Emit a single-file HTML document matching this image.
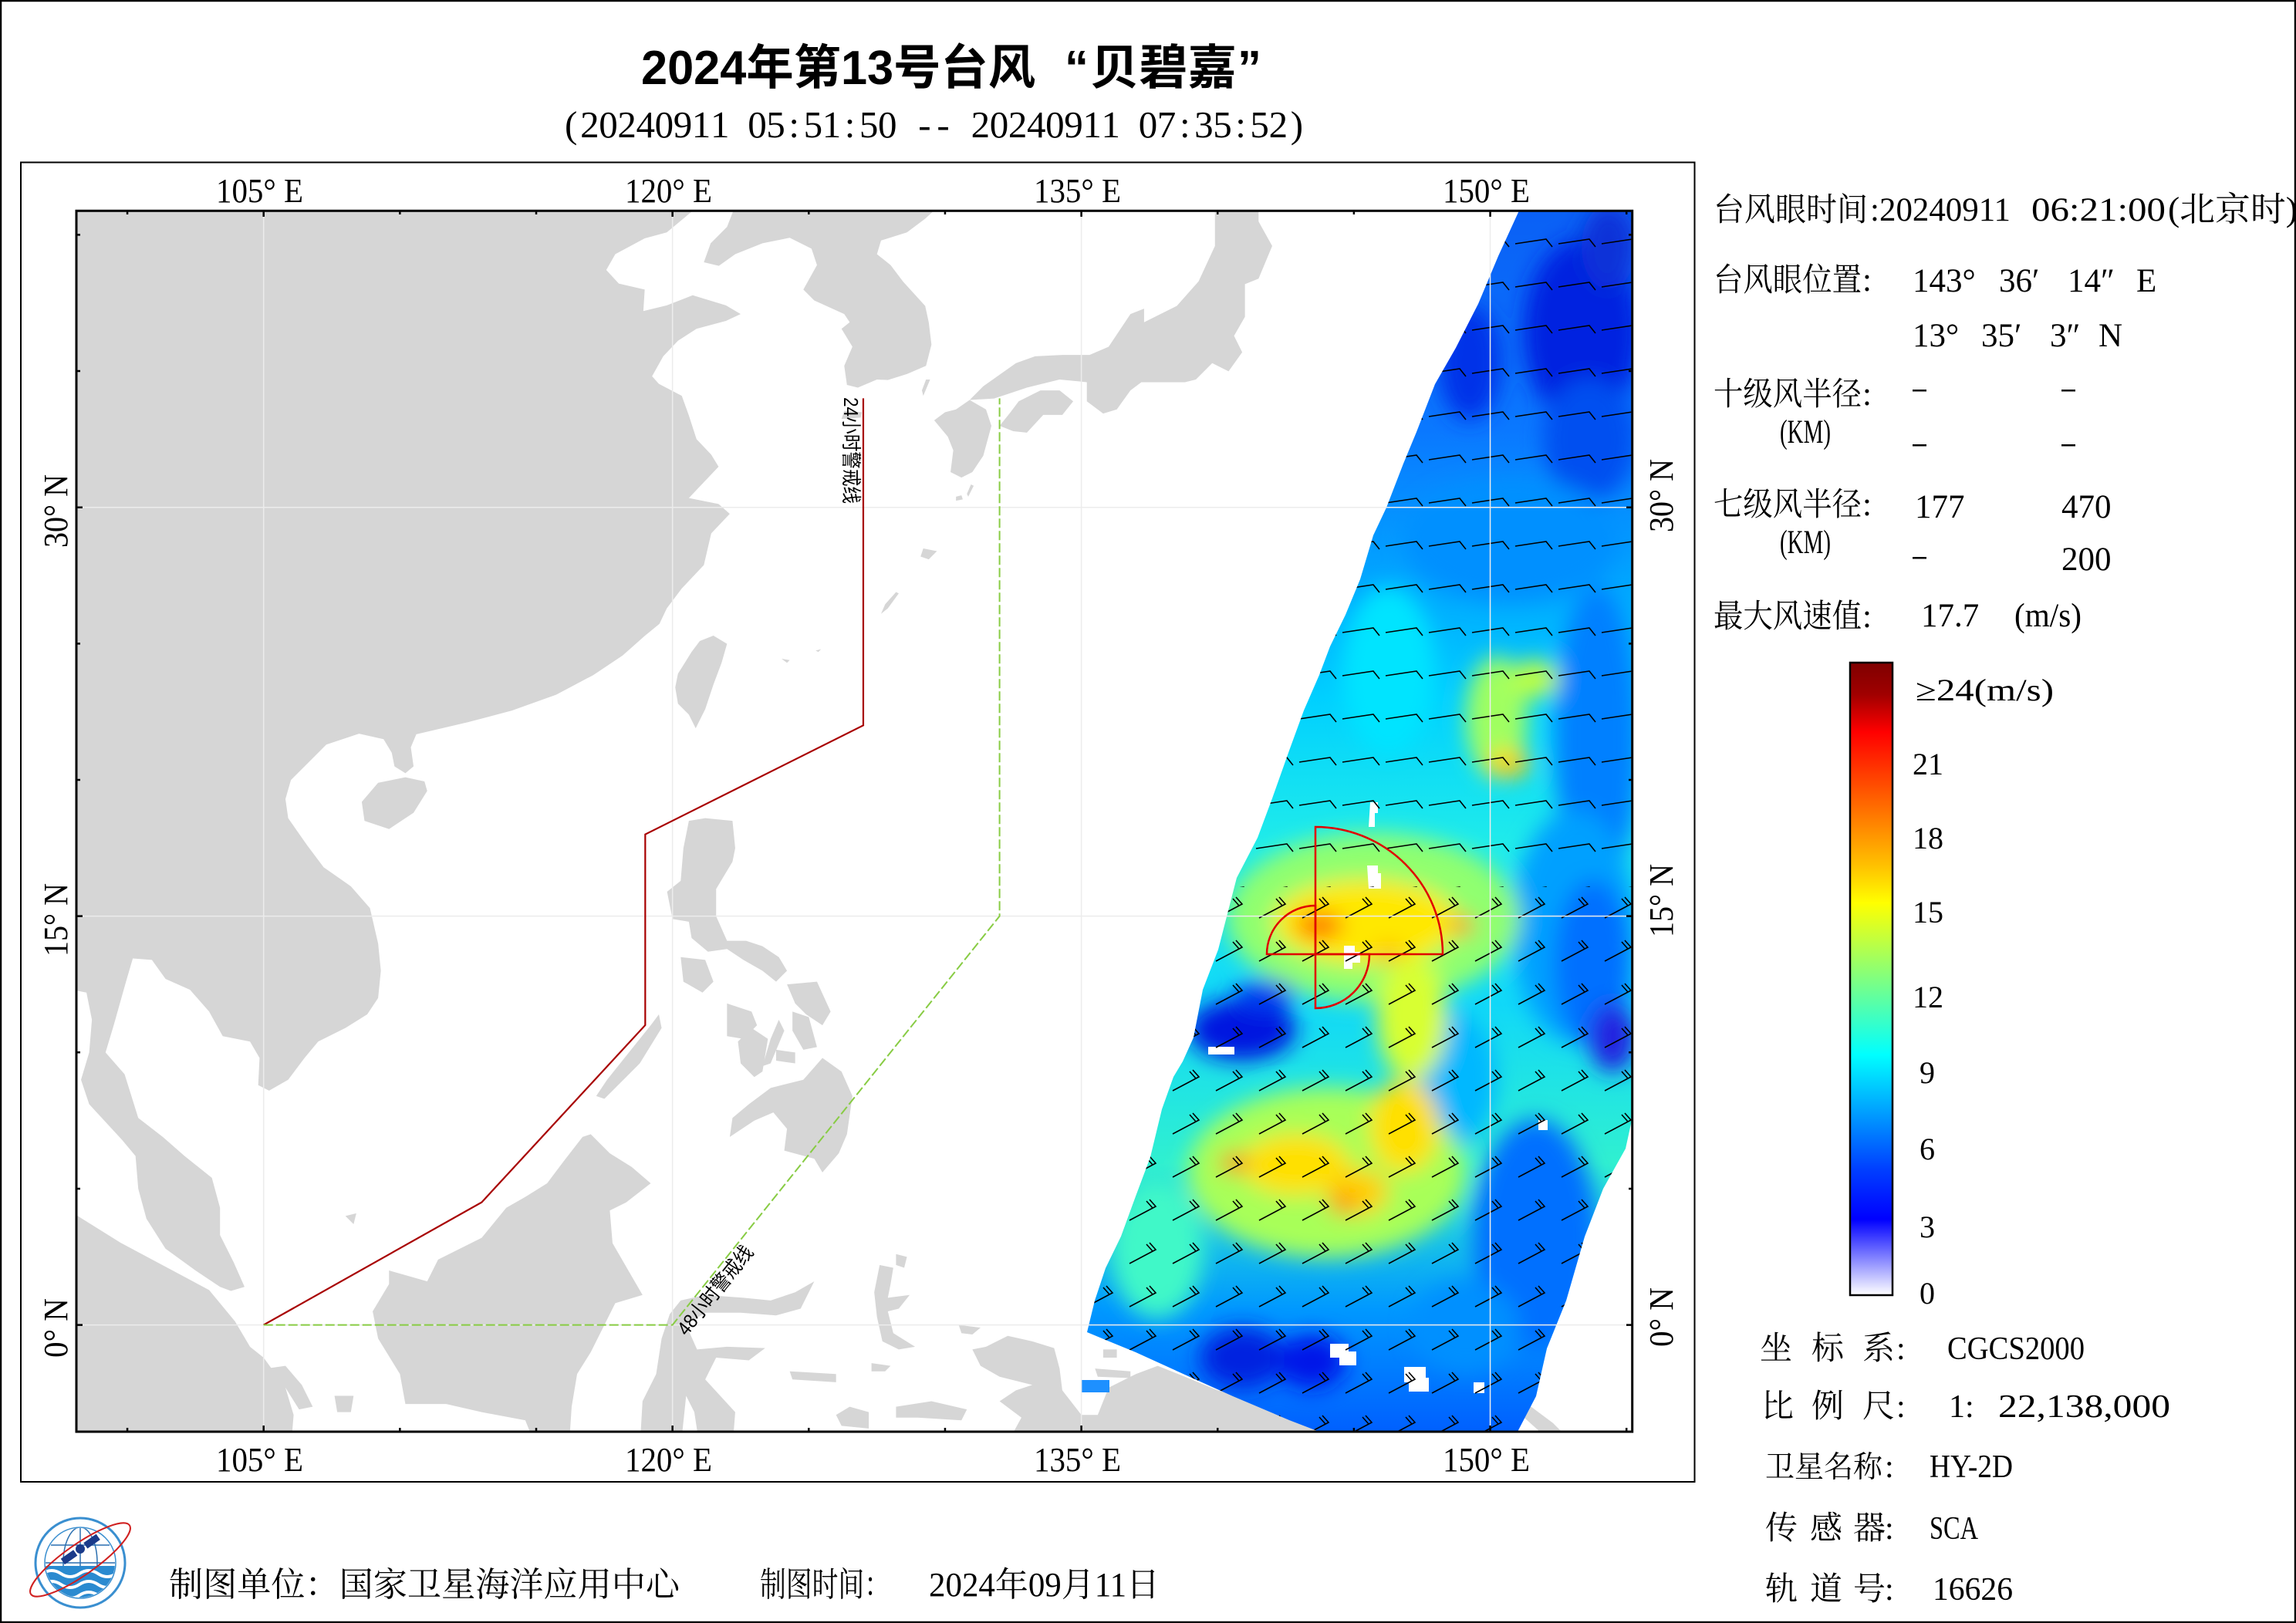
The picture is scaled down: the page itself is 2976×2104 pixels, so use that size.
<!DOCTYPE html>
<html>
<head>
<meta charset="utf-8">
<style>
html,body{margin:0;padding:0;background:#fff;}
svg{display:block;}
.sf{font-family:"Liberation Serif","Noto Serif CJK SC",serif;}
.ss{font-family:"Liberation Sans","Noto Sans CJK SC",sans-serif;}
</style>
</head>
<body>
<svg width="2976" height="2104" viewBox="0 0 2976 2104" xmlns="http://www.w3.org/2000/svg">
<defs>
  <clipPath id="swc">
    <polygon points="1969,273 2116,273 2116,1448 2107,1489 2078,1541 2054,1603 2030,1686 2005,1748 1991,1810 1967,1856 1710,1856 1671,1841 1598,1810 1540,1784 1472,1753 1433,1737 1409,1727 1419,1686 1433,1644 1453,1603 1472,1551 1491,1500 1506,1438 1521,1396 1533,1376 1547,1345 1559,1283 1579,1231 1603,1138 1630,1086 1649,1035 1671,973 1690,921 1710,875 1724,838 1744,797 1763,751 1780,694 1797,658 1819,601 1836,560 1860,498 1887,451 1916,394 1942,332"/>
  </clipPath>
  <linearGradient id="swg" gradientUnits="userSpaceOnUse" x1="0" y1="273" x2="0" y2="1856">
    <stop offset="0" stop-color="#0a60f5"/>
    <stop offset="0.18" stop-color="#0a78ff"/>
    <stop offset="0.31" stop-color="#00a8ff"/>
    <stop offset="0.4" stop-color="#00d0ff"/>
    <stop offset="0.52" stop-color="#20ecea"/>
    <stop offset="0.65" stop-color="#10d8f8"/>
    <stop offset="0.78" stop-color="#30f0d0"/>
    <stop offset="0.9" stop-color="#0098ff"/>
    <stop offset="1" stop-color="#0060ff"/>
  </linearGradient>
  <filter id="blr" filterUnits="userSpaceOnUse" x="1300" y="200" width="900" height="1750">
    <feGaussianBlur stdDeviation="14"/>
  </filter>
  <linearGradient id="cbg" x1="0" y1="0" x2="0" y2="1">
    <stop offset="0" stop-color="#7f0000"/>
    <stop offset="0.05" stop-color="#a00000"/>
    <stop offset="0.11" stop-color="#ff0000"/>
    <stop offset="0.18" stop-color="#ff4000"/>
    <stop offset="0.25" stop-color="#ff8000"/>
    <stop offset="0.32" stop-color="#ffc000"/>
    <stop offset="0.38" stop-color="#ffff00"/>
    <stop offset="0.44" stop-color="#c0ff40"/>
    <stop offset="0.50" stop-color="#80ff80"/>
    <stop offset="0.56" stop-color="#40ffc0"/>
    <stop offset="0.62" stop-color="#00ffff"/>
    <stop offset="0.68" stop-color="#00c0ff"/>
    <stop offset="0.74" stop-color="#0080ff"/>
    <stop offset="0.80" stop-color="#0040ff"/>
    <stop offset="0.88" stop-color="#0000ff"/>
    <stop offset="0.895" stop-color="#2020ff"/>
    <stop offset="0.91" stop-color="#4040ff"/>
    <stop offset="0.925" stop-color="#6060ff"/>
    <stop offset="0.94" stop-color="#8080ff"/>
    <stop offset="0.955" stop-color="#a0a0ff"/>
    <stop offset="0.97" stop-color="#c0c0ff"/>
    <stop offset="0.985" stop-color="#e0e0ff"/>
    <stop offset="1" stop-color="#ffffff"/>
  </linearGradient>
  <pattern id="bn" patternUnits="userSpaceOnUse" x="1400" y="290" width="56" height="56">
    <path d="M4,26 L44,20 L52,30" fill="none" stroke="#000" stroke-width="1.6"/>
  </pattern>
  <pattern id="bs" patternUnits="userSpaceOnUse" x="1400" y="1150" width="56" height="56">
    <path d="M8,40 L42,22 L34,13 M38,24 L30,15" fill="none" stroke="#000" stroke-width="1.6"/>
  </pattern>
  <clipPath id="logoc"><circle cx="104" cy="2026" r="45"/></clipPath>
</defs>

<rect x="0" y="0" width="2976" height="2104" fill="#fff"/>

<!-- LAND -->
<svg x="99" y="273.3" width="2016.7" height="1582.7" viewBox="98.13 -40.89 57.08 44.807" preserveAspectRatio="none">
<g fill="#d6d6d6">
<path d="M97,-42 L120.8,-42 L120.74,-40.89 L119.79,-40.1 L118.98,-39.88 L117.9,-39.3 L117.57,-38.72 L118.03,-38.22 L118.98,-38 L118.93,-37.21 L119.79,-37.42 L120.74,-37.79 L121.96,-37.42 L122.5,-37.1 L121.96,-36.85 L120.88,-36.56 L120.2,-36.12 L119.66,-35.55 L119.25,-34.82 L119.5,-34.54 L120.34,-34.1 L120.6,-33.38 L120.88,-32.51 L121.42,-31.94 L121.69,-31.5 L121.15,-30.93 L120.6,-30.35 L121.69,-30.13 L122.1,-29.77 L121.42,-29.05 L121.15,-27.89 L120.34,-27.03 L119.79,-26.3 L119.52,-25.73 L118.98,-25.29 L118.17,-24.57 L117.09,-23.85 L115.73,-23.13 L114.11,-22.55 L112.49,-22.12 L110.6,-21.68 L110.4,-21.2 L110.5,-20.5 L110.2,-20.25 L109.8,-20.5 L109.7,-21 L109.4,-21.5 L108.5,-21.7 L107.3,-21.3 L106.7,-20.7 L106,-20 L105.8,-19.3 L105.9,-18.6 L106.6,-17.6 L107.2,-16.8 L108.2,-16.1 L108.9,-15.3 L109.2,-14 L109.3,-13 L109.2,-12 L108.8,-11.4 L108,-10.9 L107,-10.4 L106.5,-9.8 L105.9,-9 L105.2,-8.6 L104.8,-8.8 L104.85,-9.8 L104.5,-10.4 L103.5,-10.6 L103,-11.5 L102.3,-12.3 L101.4,-12.7 L100.9,-13.4 L100.2,-13.45 L99.95,-12.6 L99.5,-11 L99.2,-10 L99.9,-9.2 L100.4,-7.6 L101.3,-6.9 L102.1,-6.2 L103.1,-5.4 L103.4,-4.3 L103.4,-3.3 L103.9,-2.3 L104.3,-1.4 L103.8,-1.25 L103.4,-1.4 L102.5,-2 L101.4,-2.8 L100.7,-3.9 L100.4,-5 L100.3,-6.2 L99.8,-6.8 L98.6,-8.1 L98.3,-9 L98.6,-10 L98.7,-11.2 L98.5,-12.2 L97,-12.5 Z"/>
<path d="M122.23,-41.5 L122.23,-40.89 L122,-40.3 L121.4,-39.7 L121.15,-39 L121.7,-38.87 L122.3,-39.3 L123.3,-39.7 L124.3,-39.9 L125.1,-39.5 L125.3,-38.9 L124.8,-38 L125.2,-37.6 L126.3,-37.1 L126.5,-36.8 L126.2,-36.56 L126.6,-35.9 L126.3,-35.2 L126.4,-34.5 L126.8,-34.4 L127.5,-34.7 L127.9,-34.68 L128.6,-34.9 L129.3,-35.2 L129.5,-35.98 L129.4,-36.8 L129.27,-37.4 L128.46,-38.29 L128,-38.9 L127.5,-39.3 L127.65,-39.8 L128.6,-40.1 L129.27,-40.6 L129.7,-41 L129.8,-41.5 Z"/>
<path d="M126.2,-33.25 L126.9,-33.3 L126.95,-33.5 L126.3,-33.55 Z"/>
<path d="M139.9,-41.6 L141.5,-41.5 L141.5,-40.5 L142,-39.6 L141.5,-38.4 L141,-38.2 L141,-37 L140.6,-36.3 L140.9,-35.7 L140.4,-35 L139.8,-35.3 L139.2,-34.7 L138.8,-34.6 L138.2,-34.6 L137.2,-34.6 L136.8,-34.3 L136.3,-33.6 L135.8,-33.45 L135.2,-33.9 L135.2,-34.6 L134.2,-34.7 L133,-34.4 L131.8,-34 L130.9,-33.95 L131.4,-34.45 L132.6,-35.3 L133.3,-35.55 L134.3,-35.6 L135.3,-35.6 L136,-35.9 L136.8,-37.1 L137.3,-37.3 L137.3,-36.8 L138.5,-37.4 L139.3,-38.3 L139.9,-39.6 L139.9,-40.6 Z"/>
<path d="M132,-33 L132.4,-33.5 L132.7,-33.9 L133.5,-34.3 L134.2,-34.3 L134.7,-33.9 L134.3,-33.4 L133.6,-33.4 L133,-32.75 L132.5,-32.8 Z"/>
<path d="M130.9,-33.95 L131.5,-33.6 L131.7,-33 L131.4,-31.9 L131,-31.3 L130.6,-31.1 L130.2,-31.3 L130.3,-32.1 L130.1,-32.6 L129.6,-33.2 L130,-33.5 L130.4,-33.6 Z"/>
<path d="M129.2,-34.1 L129.45,-34.7 L129.3,-34.7 L129.15,-34.3 Z"/>
<path d="M130.85,-30.4 L131.05,-30.8 L130.95,-30.85 L130.8,-30.5 Z M130.4,-30.25 L130.65,-30.3 L130.6,-30.45 L130.4,-30.4 Z"/>
<path d="M129.2,-28.5 L129.7,-28.4 L129.4,-28.1 L129.1,-28.2 Z"/>
<path d="M127.65,-26.1 L127.9,-26.3 L128.3,-26.85 L128.2,-26.9 L127.8,-26.45 Z"/>
<path d="M124,-24.45 L124.3,-24.4 L124.2,-24.3 Z M125.25,-24.75 L125.45,-24.8 L125.35,-24.7 Z"/>
<path d="M121.5,-25.3 L122,-25 L121.8,-24.3 L121.5,-23.5 L121.2,-22.6 L120.85,-21.9 L120.6,-22.4 L120.2,-22.8 L120.1,-23.4 L120.2,-23.9 L120.7,-24.7 L121,-25.1 Z"/>
<path d="M108.6,-19.2 L109.2,-19.9 L110.2,-20.1 L110.9,-19.95 L111,-19.6 L110.5,-18.8 L109.6,-18.2 L108.7,-18.5 Z"/>
<path d="M120.6,-18.5 L121.2,-18.6 L122.2,-18.5 L122.3,-17.5 L122.2,-17 L121.6,-16 L121.6,-15 L122,-14.1 L122.7,-14.1 L123.3,-13.9 L123.9,-13.5 L124.2,-13 L123.8,-12.6 L123.3,-13 L122.6,-13.4 L122,-13.8 L121.3,-13.7 L120.7,-14.2 L120.6,-14.8 L120,-14.9 L119.8,-15.9 L120.3,-16.3 L120.4,-17.5 Z"/>
<path d="M120.3,-13.5 L121.2,-13.4 L121.5,-12.6 L121.1,-12.2 L120.4,-12.6 Z"/>
<path d="M122,-11.8 L122.9,-11.5 L123.1,-11 L122.6,-10.5 L122,-10.6 Z"/>
<path d="M122.9,-10.9 L123.5,-10.5 L123.3,-9.3 L123,-9.1 L122.5,-9.6 L122.4,-10.4 Z"/>
<path d="M123.9,-11.2 L124.1,-10.8 L123.6,-9.6 L123.3,-9.5 L123.6,-10.5 Z"/>
<path d="M123.8,-10.1 L124.5,-10 L124.5,-9.6 L123.8,-9.7 Z"/>
<path d="M124.4,-11.5 L125,-11.3 L125.3,-10.2 L124.8,-10.1 L124.4,-10.8 Z"/>
<path d="M124.2,-12.5 L125.3,-12.6 L125.8,-11.5 L125.5,-11 L124.9,-11.4 L124.5,-11.8 Z"/>
<path d="M123.6,-8.7 L124.8,-9 L125.5,-9.8 L126.2,-9.3 L126.6,-8.4 L126.4,-7 L126.1,-6.3 L125.5,-5.6 L125.2,-6.1 L124.1,-6.4 L124.2,-7.2 L123.7,-7.8 L123,-7.5 L122.1,-6.9 L122.2,-7.6 L122.8,-8.1 Z"/>
<path d="M117.2,-8.4 L117.5,-8.3 L118.8,-9.6 L119.6,-10.9 L119.5,-11.4 L119.2,-11 L118.4,-10 L117.6,-9 Z"/>
<path d="M117,-7 L117.7,-6.3 L118.5,-5.8 L119.2,-5.2 L118.3,-4.5 L117.7,-4.2 L117.8,-3 L118.9,-1.1 L117.9,-0.8 L117.5,0 L117,1 L116.5,1.8 L116.3,3 L116.2,4.5 L115,4.5 L114.6,3.5 L113,3.2 L111.7,2.9 L110.2,2.9 L110,1.8 L109.2,0.5 L109,-0.5 L109.6,-1.5 L109.6,-2 L111,-1.6 L111.4,-2.4 L113,-3.2 L113.9,-4.3 L114.6,-4.7 L115.4,-5.2 L116,-6 L116.7,-6.9 Z"/>
<path d="M97,4.5 L97,-4.1 L98.13,-4.03 L99.75,-3.02 L101.38,-2.15 L103,-1.28 L103.95,-0.13 L104.5,0.8 L105,1.2 L105.8,2.3 L106.1,3.3 L106,4.5 Z"/>
<path d="M105.1,1.6 L105.8,1.5 L106.4,2.2 L106.8,3 L106.3,3.1 L105.8,2.3 Z"/>
<path d="M107.6,2.6 L108.3,2.6 L108.2,3.2 L107.7,3.2 Z"/>
<path d="M108,-4 L108.4,-4.1 L108.3,-3.7 Z"/>
<path d="M118.8,4.5 L118.9,2.8 L119.4,1.8 L119.6,0.5 L119.9,-0.4 L120.3,-0.9 L121.2,-1.1 L122.6,-1 L123.6,-0.9 L124.5,-1.2 L125.2,-1.6 L124.7,-0.6 L123.8,-0.35 L122.5,-0.45 L121.2,-0.45 L120.5,0 L120.9,0.9 L122,0.8 L123.4,0.85 L122.8,1.3 L121.6,1.2 L121.2,2 L122.3,3.2 L122.2,4.5 L121,4.5 L120.8,3.2 L120.5,2.6 L120.3,4.5 Z"/>
<path d="M127.6,-2.2 L128.1,-2.1 L128,-1.5 L127.9,-1 L128.7,-1.1 L128.3,-0.6 L127.9,-0.5 L128.1,0.3 L128.9,0.8 L128.3,0.9 L127.7,0.6 L127.5,-0.3 L127.4,-1.2 Z"/>
<path d="M128.2,-2.6 L128.6,-2.5 L128.5,-2.1 L128.2,-2.2 Z"/>
<path d="M124.3,1.7 L126,1.8 L126,2.1 L124.4,2 Z"/>
<path d="M126,3.3 L126.5,3 L127.2,3.2 L127.2,3.8 L126.2,3.7 Z"/>
<path d="M128.2,3 L129.5,2.8 L130.8,3.1 L130.6,3.5 L129,3.4 L128.2,3.4 Z"/>
<path d="M127.3,1.4 L128,1.5 L127.8,1.7 L127.3,1.7 Z"/>
<path d="M130.5,0 L131.3,0.1 L131,0.35 L130.6,0.3 Z"/>
<path d="M131,0.9 L131.5,0.8 L132.3,0.4 L133.2,0.6 L134,0.85 L134.2,1.6 L134.3,2.4 L135,3.3 L135.6,3.3 L136,2.3 L137,1.8 L137.8,1.5 L138.8,1.9 L140,2.4 L140.8,2.6 L141.9,2.9 L143,3.2 L143.8,3.5 L144.6,4 L144.6,4.5 L132.2,4.5 L132.8,3.4 L132,2.8 L132.6,2.4 L133.2,2.2 L132,1.9 L131.3,1.5 Z"/>
<path d="M135.5,1.6 L136.8,1.7 L136.8,1.95 L135.6,1.9 Z"/>
<path d="M135.8,0.9 L136.3,0.9 L136.3,1.2 L135.8,1.2 Z"/>
<path d="M146.6,1.95 L147.4,1.95 L147.4,2.2 L146.6,2.2 Z"/>
<path d="M150,2.4 L150.8,2.5 L151.5,3 L152.3,3.6 L153,4.3 L152.7,4.5 L151.8,3.9 L150.8,3 L150,2.8 Z"/>
</g>
</svg>

<!-- SWATH -->
<g clip-path="url(#swc)">
  <rect x="1390" y="270" width="730" height="1590" fill="url(#swg)"/>
  <g filter="url(#blr)">
    <ellipse cx="2050" cy="430" rx="75" ry="120" fill="#0020e0"/>
    <ellipse cx="2085" cy="320" rx="35" ry="55" fill="#1030d8"/>
    <ellipse cx="1905" cy="470" rx="40" ry="75" fill="#0030e8"/>
    <ellipse cx="2060" cy="570" rx="60" ry="80" fill="#0050f0"/>
    <ellipse cx="1960" cy="700" rx="140" ry="80" fill="#0090ff"/>
    <ellipse cx="1800" cy="870" rx="60" ry="110" fill="#00e4ff"/>
    <ellipse cx="2070" cy="960" rx="55" ry="200" fill="#0080ff"/>
    <ellipse cx="1940" cy="930" rx="40" ry="80" fill="#a0ff60"/>
    <ellipse cx="1990" cy="880" rx="30" ry="25" fill="#c0ff40"/>
    <ellipse cx="1955" cy="990" rx="28" ry="18" fill="#ffd000"/>
    <ellipse cx="2040" cy="1200" rx="80" ry="150" fill="#00a0ff"/>
    <ellipse cx="2065" cy="1250" rx="50" ry="110" fill="#0070ff"/>
    <ellipse cx="1780" cy="1190" rx="190" ry="110" fill="#90ff70"/>
    <ellipse cx="1770" cy="1195" rx="120" ry="55" fill="#ffe800"/>
    <ellipse cx="1880" cy="1400" rx="60" ry="90" fill="#00b8ff"/>
    <ellipse cx="1830" cy="1320" rx="45" ry="80" fill="#d8ff30"/>
    <ellipse cx="1610" cy="1335" rx="70" ry="40" fill="#0018e0"/>
    <ellipse cx="1640" cy="1290" rx="40" ry="20" fill="#0040f0"/>
    <ellipse cx="2090" cy="1345" rx="30" ry="45" fill="#2020e0"/>
    <ellipse cx="1990" cy="1600" rx="80" ry="150" fill="#0070ff"/>
    <ellipse cx="1900" cy="1720" rx="70" ry="60" fill="#0090ff"/>
    <ellipse cx="1500" cy="1620" rx="60" ry="90" fill="#40f8c8"/>
    <ellipse cx="1720" cy="1520" rx="180" ry="110" fill="#a8ff58"/>
    <ellipse cx="1680" cy="1510" rx="70" ry="40" fill="#ffe000"/>
    <ellipse cx="1820" cy="1460" rx="45" ry="60" fill="#ffe000"/>
    <ellipse cx="1760" cy="1545" rx="40" ry="30" fill="#ffd000"/>
    <ellipse cx="1610" cy="1760" rx="55" ry="40" fill="#0020e0"/>
    <ellipse cx="1700" cy="1765" rx="45" ry="35" fill="#0018e8"/>
    <ellipse cx="1710" cy="1200" rx="30" ry="17" fill="#ff6a00"/>
    <ellipse cx="1895" cy="1200" rx="15" ry="12" fill="#ff8000"/>
    <ellipse cx="1800" cy="1235" rx="20" ry="10" fill="#ffb000"/>
    <ellipse cx="1600" cy="1508" rx="18" ry="12" fill="#ff7000"/>
    <ellipse cx="1740" cy="1560" rx="18" ry="14" fill="#ff9000"/>
  </g>
  <g fill="#fff">
    <path d="M1742,1226 h14 v8 h7 v14 h-10 v8 h-11 Z"/>
    <path d="M1776,1040 h10 v14 h-4 v18 h-8 Z"/>
    <path d="M1772,1122 h14 v10 h4 v20 h-16 Z"/>
    <path d="M1566,1357 h34 v10 h-34 Z"/>
    <path d="M1724,1742 h24 v10 h10 v18 h-22 v-10 h-12 Z"/>
    <path d="M1820,1772 h28 v14 h4 v18 h-26 v-12 h-6 Z"/>
    <path d="M1910,1792 h14 v14 h-14 Z"/>
    <path d="M1994,1452 h12 v13 h-12 Z"/>
  </g>
  <rect x="1390" y="270" width="730" height="880" fill="url(#bn)"/>
  <rect x="1390" y="1150" width="730" height="710" fill="url(#bs)"/>
</g>
<rect x="1402" y="1789" width="36" height="16" fill="#1e90ff"/>

<!-- GRIDLINES -->
<g stroke="#ececec" stroke-width="1.5">
  <line x1="341.7" y1="273" x2="341.7" y2="1856"/>
  <line x1="871.65" y1="273" x2="871.65" y2="1856"/>
  <line x1="1401.6" y1="273" x2="1401.6" y2="1856"/>
  <line x1="1931.55" y1="273" x2="1931.55" y2="1856"/>
  <line x1="99" y1="657.7" x2="2116" y2="657.7"/>
  <line x1="99" y1="1187.65" x2="2116" y2="1187.65"/>
  <line x1="99" y1="1717.6" x2="2116" y2="1717.6"/>
</g>

<!-- WARNING LINES -->
<polyline points="1118.96,516.38 1118.96,940.34 836.32,1081.66 836.32,1328.97 624.34,1558.6 341.7,1717.6" fill="none" stroke="#a80000" stroke-width="2.2"/>
<polyline points="341.7,1717.6 871.65,1717.6 1295.6,1187.65 1295.6,516.38" fill="none" stroke="#88cc44" stroke-width="2" stroke-dasharray="12,4"/>
<text class="ss" transform="translate(1094,515) rotate(90)" font-size="26" textLength="138" lengthAdjust="spacingAndGlyphs" fill="#000">24小时警戒线</text>
<text class="ss" transform="translate(890,1733) rotate(-51.3)" font-size="26" textLength="140" lengthAdjust="spacingAndGlyphs" fill="#000">48小时警戒线</text>

<!-- TYPHOON RADII -->
<g fill="none" stroke="#e00000" stroke-width="2.5">
  <path d="M1705,1237 L1705,1072 A165,165 0 0 1 1870,1237 Z"/>
  <path d="M1705,1237 L1775,1237 A70,70 0 0 1 1705,1307 Z"/>
  <path d="M1705,1237 L1642,1237 A63,63 0 0 1 1705,1174 Z"/>
</g>

<!-- PLOT BORDER & TICKS -->
<rect x="99" y="273.3" width="2016.7" height="1582.7" fill="none" stroke="#000" stroke-width="3"/>
<path stroke="#000" stroke-width="2.5" fill="none" d="
M165.05,273 v5 M341.7,273 v8 M518.35,273 v5 M695,273 v5 M871.65,273 v8 M1048.3,273 v5 M1224.95,273 v5 M1401.6,273 v8 M1578.25,273 v5 M1754.9,273 v5 M1931.55,273 v8 M2108.2,273 v5
M165.05,1856 v-5 M341.7,1856 v-8 M518.35,1856 v-5 M695,1856 v-5 M871.65,1856 v-8 M1048.3,1856 v-5 M1224.95,1856 v-5 M1401.6,1856 v-8 M1578.25,1856 v-5 M1754.9,1856 v-5 M1931.55,1856 v-8 M2108.2,1856 v-5
M99,304.4 h5 M99,481.05 h5 M99,657.7 h8 M99,834.35 h5 M99,1011 h5 M99,1187.65 h8 M99,1364.3 h5 M99,1540.95 h5 M99,1717.6 h8
M2116,304.4 h-5 M2116,481.05 h-5 M2116,657.7 h-8 M2116,834.35 h-5 M2116,1011 h-5 M2116,1187.65 h-8 M2116,1364.3 h-5 M2116,1540.95 h-5 M2116,1717.6 h-8"/>

<!-- AXIS LABELS -->
<g class="sf" font-size="44" fill="#000">
  <text x="280" y="262" textLength="113" lengthAdjust="spacingAndGlyphs">105° E</text>
  <text x="810" y="262" textLength="113" lengthAdjust="spacingAndGlyphs">120° E</text>
  <text x="1340" y="262" textLength="113" lengthAdjust="spacingAndGlyphs">135° E</text>
  <text x="1870" y="262" textLength="113" lengthAdjust="spacingAndGlyphs">150° E</text>
  <text x="280" y="1907" textLength="113" lengthAdjust="spacingAndGlyphs">105° E</text>
  <text x="810" y="1907" textLength="113" lengthAdjust="spacingAndGlyphs">120° E</text>
  <text x="1340" y="1907" textLength="113" lengthAdjust="spacingAndGlyphs">135° E</text>
  <text x="1870" y="1907" textLength="113" lengthAdjust="spacingAndGlyphs">150° E</text>
  <text transform="translate(87,710) rotate(-90)" textLength="95" lengthAdjust="spacingAndGlyphs">30° N</text>
  <text transform="translate(87,1240) rotate(-90)" textLength="95" lengthAdjust="spacingAndGlyphs">15° N</text>
  <text transform="translate(87,1760) rotate(-90)" textLength="77" lengthAdjust="spacingAndGlyphs">0° N</text>
  <text transform="translate(2168,690) rotate(-90)" textLength="95" lengthAdjust="spacingAndGlyphs">30° N</text>
  <text transform="translate(2168,1215) rotate(-90)" textLength="95" lengthAdjust="spacingAndGlyphs">15° N</text>
  <text transform="translate(2168,1746) rotate(-90)" textLength="77" lengthAdjust="spacingAndGlyphs">0° N</text>
</g>

<!-- FRAMES -->
<rect x="27" y="210.5" width="2169.5" height="1710.5" fill="none" stroke="#000" stroke-width="2"/>
<rect x="1" y="1" width="2974" height="2102" fill="none" stroke="#000" stroke-width="2.5"/>

<!-- TITLE -->
<g class="ss" font-weight="bold" font-size="62" fill="#000">
  <text x="831" y="109" textLength="511" lengthAdjust="spacingAndGlyphs">2024年第13号台风</text>
  <text x="1380" y="109">“</text>
  <text x="1413" y="109" textLength="190" lengthAdjust="spacingAndGlyphs">贝碧嘉</text>
  <text x="1604" y="109">”</text>
</g>
<text class="sf" font-size="49" fill="#000" y="178" x="732 752.1 776.2 800.4 824.5 848.6 872.7 896.8 921 945.1 969.2 993.3 1022.4 1041.6 1065.7 1094.8 1113.9 1138 1162.2 1190.3 1214.4 1234.5 1258.6 1282.8 1306.9 1331 1355.1 1379.2 1403.4 1427.5 1451.6 1475.7 1499.8 1529 1548.1 1572.2 1601.3 1620.4 1644.6 1672.7">(20240911 05:51:50 -- 20240911 07:35:52)</text>

<!-- RIGHT PANEL -->
<g class="sf" font-size="43" fill="#000">
  <text x="2221" y="286" font-size="42" textLength="200" lengthAdjust="spacingAndGlyphs">台风眼时间</text>
  <text x="2424" y="286">:</text>
  <text x="2436" y="286" textLength="170" lengthAdjust="spacingAndGlyphs">20240911</text>
  <text x="2633" y="286" textLength="174" lengthAdjust="spacingAndGlyphs">06:21:00</text>
  <text x="2810" y="286" font-size="44" textLength="168" lengthAdjust="spacingAndGlyphs">(北京时)</text>

  <text x="2221" y="377" font-size="42" textLength="192" lengthAdjust="spacingAndGlyphs">台风眼位置</text>
  <text x="2414" y="377">:</text>
  <text x="2479" y="378">143°</text>
  <text x="2591" y="378">36′</text>
  <text x="2680" y="378">14″</text>
  <text x="2769" y="378">E</text>

  <text x="2479" y="449">13°</text>
  <text x="2568" y="449">35′</text>
  <text x="2657" y="449">3″</text>
  <text x="2720" y="449">N</text>

  <text x="2221" y="525" font-size="42" textLength="192" lengthAdjust="spacingAndGlyphs">十级风半径</text>
  <text x="2414" y="525">:</text>
  <text x="2307" y="574" textLength="66" lengthAdjust="spacingAndGlyphs">(KM)</text>

  <text x="2221" y="668" font-size="42" textLength="192" lengthAdjust="spacingAndGlyphs">七级风半径</text>
  <text x="2414" y="668">:</text>
  <text x="2482" y="671">177</text>
  <text x="2672" y="671">470</text>
  <text x="2307" y="717" textLength="66" lengthAdjust="spacingAndGlyphs">(KM)</text>
  <text x="2672" y="739">200</text>

  <text x="2221" y="813" font-size="42" textLength="192" lengthAdjust="spacingAndGlyphs">最大风速值</text>
  <text x="2414" y="813">:</text>
  <text x="2490" y="812">17.7</text>
  <text x="2611" y="812" textLength="87" lengthAdjust="spacingAndGlyphs">(m/s)</text>
</g>
<g fill="#000">
  <rect x="2479" y="505" width="18" height="2.5"/>
  <rect x="2672" y="505" width="18" height="2.5"/>
  <rect x="2479" y="576" width="18" height="2.5"/>
  <rect x="2672" y="576" width="18" height="2.5"/>
  <rect x="2479" y="722" width="18" height="2.5"/>
</g>

<!-- COLORBAR -->
<rect x="2398" y="859" width="55" height="820" fill="url(#cbg)" stroke="#000" stroke-width="2.5"/>
<g class="sf" font-size="40" fill="#000">
  <text x="2483" y="908" textLength="179" lengthAdjust="spacingAndGlyphs">≥24(m/s)</text>
  <text x="2479" y="1004">21</text>
  <text x="2479" y="1100">18</text>
  <text x="2479" y="1196">15</text>
  <text x="2479" y="1306">12</text>
  <text x="2488" y="1404">9</text>
  <text x="2488" y="1503">6</text>
  <text x="2488" y="1604">3</text>
  <text x="2488" y="1690">0</text>
</g>

<!-- BOTTOM RIGHT INFO -->
<g class="sf" font-size="42" fill="#000">
  <text x="2281" y="1762">坐</text><text x="2348" y="1762">标</text><text x="2414" y="1762">系</text><text x="2458" y="1762">:</text>
  <text x="2524" y="1762" textLength="178" lengthAdjust="spacingAndGlyphs">CGCS2000</text>
  <text x="2283" y="1837">比</text><text x="2348" y="1837">例</text><text x="2414" y="1837">尺</text><text x="2458" y="1837">:</text>
  <text x="2526" y="1837">1:</text>
  <text x="2590" y="1837" textLength="223" lengthAdjust="spacingAndGlyphs">22,138,000</text>
  <text x="2288" y="1915" font-size="39" textLength="152" lengthAdjust="spacingAndGlyphs">卫星名称</text><text x="2443" y="1915">:</text>
  <text x="2501" y="1915" textLength="108" lengthAdjust="spacingAndGlyphs">HY-2D</text>
  <text x="2288" y="1995">传</text><text x="2346" y="1995">感</text><text x="2402" y="1995">器</text><text x="2443" y="1995">:</text>
  <text x="2501" y="1995" textLength="63" lengthAdjust="spacingAndGlyphs">SCA</text>
  <text x="2288" y="2074">轨</text><text x="2346" y="2074">道</text><text x="2402" y="2074">号</text><text x="2443" y="2074">:</text>
  <text x="2505" y="2074" textLength="104" lengthAdjust="spacingAndGlyphs">16626</text>
</g>

<!-- BOTTOM LEFT -->
<g class="sf" font-size="44" fill="#000">
  <text x="219" y="2069" textLength="662" lengthAdjust="spacingAndGlyphs">制图单位：国家卫星海洋应用中心</text>
  <text x="985" y="2069" textLength="169" lengthAdjust="spacingAndGlyphs">制图时间：</text>
  <text x="1204" y="2069" textLength="299" lengthAdjust="spacingAndGlyphs">2024年09月11日</text>
</g>

<!-- LOGO -->
<g>
  <circle cx="104" cy="2026" r="58" fill="#fff" stroke="#3a8fd0" stroke-width="3"/>
  <circle cx="104" cy="2026" r="46" fill="none" stroke="#3a8fd0" stroke-width="1.5"/>
  <g clip-path="url(#logoc)">
    <path d="M58,2026 H150 M104,1980 V2030 M66,2003 H142" stroke="#2a6fb0" fill="none" stroke-width="1.5"/>
    <ellipse cx="104" cy="2026" rx="22" ry="46" fill="none" stroke="#2a6fb0" stroke-width="1.5"/>
    <rect x="55" y="2030" width="100" height="50" fill="#2a8ad0"/>
    <path d="M55,2040 q12,-8 24,0 t24,0 t24,0 t24,0 M55,2054 q12,-8 24,0 t24,0 t24,0 t24,0 M55,2068 q12,-8 24,0 t24,0 t24,0 t24,0" fill="none" stroke="#fff" stroke-width="4"/>
  </g>
  <g transform="rotate(-35 104 2008)" fill="#1a3a8a">
    <rect x="76" y="2004" width="20" height="9"/>
    <rect x="112" y="2004" width="20" height="9"/>
    <circle cx="104" cy="2008" r="6"/>
  </g>
  <ellipse cx="104" cy="2022" rx="78" ry="20" transform="rotate(-35 104 2022)" fill="none" stroke="#d02020" stroke-width="2"/>
</g>
</svg>
</body>
</html>
